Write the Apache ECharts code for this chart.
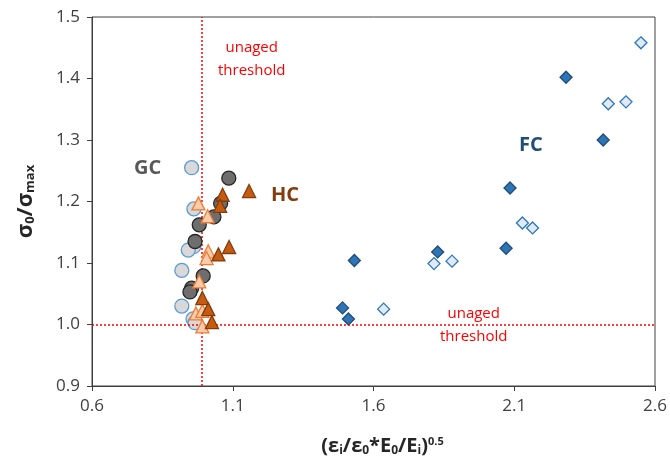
<!DOCTYPE html>
<html><head><meta charset="utf-8">
<script src="https://cdn.jsdelivr.net/npm/echarts@6/dist/echarts.min.js"></script>
<style>html,body{margin:0;padding:0;background:#fff}#c{width:670px;height:460px}</style>
</head><body><div id="c"></div>
<script>
// ---- data ----
var xTicks = [0.6, 1.1, 1.6, 2.1, 2.6];
var yTicks = [0.9, 1.0, 1.1, 1.2, 1.3, 1.4, 1.5];
var thresholdX = 0.99;
var thresholdY = 1.0;

var gcLight = [[0.954,1.255],[0.962,1.188],[0.962,1.127],[0.942,1.121],[0.919,1.088],[0.919,1.030],[0.959,1.009],[0.966,1.003]];
var gcDark  = [[1.086,1.238],[1.057,1.197],[1.033,1.175],[0.981,1.162],[0.966,1.135],[0.995,1.079],[0.954,1.059],[0.948,1.053]];
var hcDark  = [[1.158,1.217],[1.064,1.211],[1.055,1.193],[1.087,1.126],[1.049,1.114],[0.992,1.043],[1.013,1.025],[1.026,1.004]];
var hcLight = [[0.978,1.197],[1.011,1.176],[1.013,1.119],[1.007,1.108],[0.981,1.070],[0.969,1.018],[0.992,1.022],[0.992,0.997]];
var fcDark  = [[2.284,1.402],[2.416,1.300],[2.085,1.222],[2.071,1.124],[1.828,1.118],[1.532,1.104],[1.490,1.027],[1.511,1.009]];
var fcLight = [[2.550,1.458],[2.434,1.359],[2.497,1.362],[2.129,1.165],[2.165,1.157],[1.815,1.099],[1.879,1.103],[1.636,1.025]];

var FONT = 'Open Sans';
var chart = echarts.init(document.getElementById('c'));
function sc(name, data, symbol, size, fill, stroke, z) {
  return {name: name, type: 'scatter', data: data, symbol: symbol, symbolSize: size, z: z,
    itemStyle: {color: fill, borderColor: stroke, borderWidth: 1.3, opacity: 1}};
}
var option = {
  animation: false,
  grid: {left: 92, right: 15, top: 17, bottom: 74, outerBoundsMode: 'none', containLabel: false, show: true, borderColor: '#404040', borderWidth: 1},
  xAxis: {
    type: 'value', min: 0.6, max: 2.6, splitLine: {show: false},
    axisLine: {onZero: false, lineStyle: {color: '#404040'}},
    axisTick: {show: true, length: 5, customValues: xTicks, lineStyle: {color: '#404040'}},
    axisLabel: {customValues: xTicks, formatter: function(v){return v.toFixed(1);}, color: '#404040', fontSize: 17, fontFamily: FONT, margin: 12},
    name: '(ε{s|i}/ε{s|0}*E{s|0}/E{s|i}){p|0.5}', nameLocation: 'middle', nameGap: 50,
    nameTextStyle: {fontSize: 20, fontWeight: 'bold', color: '#262626', fontFamily: FONT, padding: [0,0,0,18],
      rich: {s: {fontSize: 12, fontWeight: 'bold', color: '#262626', fontFamily: FONT, verticalAlign: 'bottom', padding: [9,0,0,0]},
             p: {fontSize: 11, fontWeight: 'bold', color: '#262626', fontFamily: FONT, verticalAlign: 'top', padding: [0,0,9,0]}}}
  },
  yAxis: {
    type: 'value', min: 0.9, max: 1.5, splitLine: {show: false},
    axisLine: {onZero: false, lineStyle: {color: '#404040'}},
    axisTick: {show: true, length: 5, customValues: yTicks, lineStyle: {color: '#404040'}},
    axisLabel: {customValues: yTicks, formatter: function(v){return v.toFixed(1);}, color: '#404040', fontSize: 17, fontFamily: FONT, margin: 12},
    name: 'σ{s|0}/σ{s|max}', nameLocation: 'middle', nameGap: 55, nameRotate: 90,
    nameTextStyle: {fontSize: 22, fontWeight: 'bold', color: '#262626', fontFamily: FONT,
      rich: {s: {fontSize: 13, fontWeight: 'bold', color: '#262626', fontFamily: FONT, verticalAlign: 'bottom', padding: [10,0,0,0]}}}
  },
  series: [
    sc('FC dark', fcDark, 'diamond', 12, '#2E75B6', '#1F4E79', 3),
    sc('FC light', fcLight, 'diamond', 12, '#DEEBF7', '#2E75B6', 3),
    sc('GC light', gcLight, 'circle', 14, '#D9D9D9', '#5B9BD5', 4),
    sc('GC dark', gcDark, 'circle', 14, '#6E6E6E', '#262626', 5),
    sc('HC light', hcLight, 'triangle', 13, '#F8CBAD', '#ED7D31', 6),
    sc('HC dark', hcDark, 'triangle', 13, '#C55A11', '#843C0C', 6),
    {type: 'scatter', data: [], z: 2,
     markLine: {silent: true, symbol: 'none', animation: false, label: {show: false},
       lineStyle: {color: '#FF0000', type: [2, 2], width: 1.5},
       data: [{xAxis: thresholdX}, {yAxis: thresholdY}]}}
  ],
  graphic: [
    {type: 'text', left: 218, top: 36, z: 10, style: {text: 'unaged\nthreshold', fill: '#FF0000', font: '15px "Open Sans"', textAlign: 'center', lineHeight: 23}},
    {type: 'text', left: 440, top: 302, z: 10, style: {text: 'unaged\nthreshold', fill: '#FF0000', font: '15px "Open Sans"', textAlign: 'center', lineHeight: 23}},
    {type: 'text', left: 134, top: 158, z: 10, style: {text: 'GC', fill: '#595959', font: 'bold 20px "Open Sans"'}},
    {type: 'text', left: 271, top: 185, z: 10, style: {text: 'HC', fill: '#843C0C', font: 'bold 20px "Open Sans"'}},
    {type: 'text', left: 519, top: 135, z: 10, style: {text: 'FC', fill: '#1F4E79', font: 'bold 20px "Open Sans"'}}
  ]
};
chart.setOption(option);
</script></body></html>
